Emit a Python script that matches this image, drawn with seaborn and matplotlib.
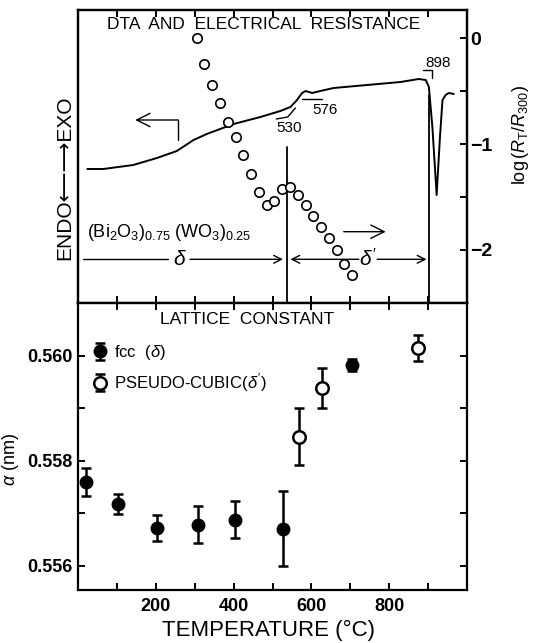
import numpy as np
import pandas as pd
import matplotlib
matplotlib.use("Agg")
import matplotlib.pyplot as plt
import seaborn as sns
from matplotlib.ticker import MultipleLocator, FixedLocator, FixedFormatter

# ---------------- data ----------------
dta_temp = [24, 65, 142, 203, 254, 297, 331, 400, 469, 520, 546, 563, 576, 585, 602,
            623, 657, 743, 829, 876, 894, 902, 911, 922, 930, 937, 945, 953, 966]
dta_signal = [13.4, 13.4, 13.8, 14.5, 15.2, 16.3, 16.9, 17.9, 18.6, 19.2, 19.6, 20.3,
              21.0, 21.2, 21.0, 21.2, 21.5, 21.8, 22.1, 22.4, 22.3, 21.6, 17.6, 10.8,
              16.3, 20.3, 20.8, 21.0, 20.9]

res_temp = [305, 325, 345, 365, 385, 405, 425, 445, 465, 485, 505, 525, 545, 565,
            585, 605, 625, 645, 665, 685, 705]
res_log = [0.0, -0.24, -0.44, -0.61, -0.79, -0.93, -1.10, -1.28, -1.45, -1.58, -1.54,
           -1.42, -1.41, -1.48, -1.58, -1.68, -1.78, -1.89, -2.00, -2.13, -2.24]

fcc_temp = [20, 104, 204, 309, 403, 528, 705]
fcc_a = [0.55760, 0.55718, 0.55672, 0.55678, 0.55688, 0.55671, 0.55982]
fcc_err = [0.00027, 0.00019, 0.00025, 0.00035, 0.00035, 0.00072, 0.00012]

pc_temp = [569, 628, 875]
pc_a = [0.55846, 0.55939, 0.56015]
pc_err = [0.00055, 0.00038, 0.00025]

transition_temps = [530, 576, 898]
x_major = [200, 400, 600, 800]
x_major_labels = ["200", "400", "600", "800"]
a_ticks = [0.556, 0.558, 0.560]
a_tick_labels = ["0.556", "0.558", "0.560"]
log_ticks = [0, -1, -2]
log_tick_labels = ["0", "\u22121", "\u22122"]

# ---------------- style ----------------
sns.set_theme(style="ticks")
plt.rcParams["font.family"] = ["Liberation Sans", "DejaVu Sans"]
plt.rcParams["mathtext.fontset"] = "custom"
plt.rcParams["mathtext.rm"] = "Liberation Sans"
plt.rcParams["mathtext.it"] = "Liberation Sans:italic"
plt.rcParams["mathtext.bf"] = "Liberation Sans:bold"
plt.rcParams["axes.linewidth"] = 1.5
plt.rcParams["axes.edgecolor"] = "black"
plt.rcParams["axes.labelcolor"] = "black"
plt.rcParams["xtick.color"] = "black"
plt.rcParams["ytick.color"] = "black"
plt.rcParams["text.color"] = "black"

K = "black"
fig = plt.figure(figsize=(5.35, 6.43), dpi=100)
W, H = 535, 643
L, R = 78, 467
ax_t = fig.add_axes([L / W, 1 - 303 / H, (R - L) / W, (303 - 10) / H])
ax_b = fig.add_axes([L / W, 1 - 590 / H, (R - L) / W, (590 - 303) / H])
ax_r = ax_t.twinx()

# ---------------- top panel ----------------
dta_df = pd.DataFrame({"T": dta_temp, "S": dta_signal})
sns.lineplot(data=dta_df, x="T", y="S", ax=ax_t, sort=False, estimator=None,
             color=K, lw=1.4)
ax_t.set_xlim(0, 1000)
ax_t.set_ylim(0, 29.3)
ax_t.set_xlabel("")
ax_t.set_ylabel("")
ax_t.set_yticks([])
ax_t.xaxis.set_major_locator(MultipleLocator(100))
ax_t.tick_params(axis="x", which="both", direction="in", top=True, bottom=True,
                 labelbottom=False, length=5, width=1.4, color=K)

res_df = pd.DataFrame({"T": res_temp, "logR": res_log})
sns.scatterplot(data=res_df, x="T", y="logR", ax=ax_r, s=46, facecolor="white",
                edgecolor=K, linewidth=1.2, zorder=3)
ax_r.set_ylim(-2.502, 0.267)
ax_r.set_xlim(0, 1000)
ax_r.yaxis.set_major_locator(FixedLocator(log_ticks))
ax_r.yaxis.set_major_formatter(FixedFormatter(log_tick_labels))
ax_r.yaxis.set_minor_locator(MultipleLocator(0.5))
ax_r.tick_params(axis="y", which="both", direction="in", length=5, width=1.4,
                 labelsize=14, pad=2, color=K, labelcolor=K)
for lab in ax_r.get_yticklabels():
    lab.set_fontweight("bold")
ax_r.set_xlabel("")
ax_r.set_ylabel(r"log$\,(R_{\rm T}/R_{300})$", fontsize=13, rotation=90, color=K)
ax_r.yaxis.set_label_coords(1.11, 0.573)

# transition markers
ax_t.plot([536, 536], [0, 15.6], color=K, lw=1.3)
ax_t.plot([902, 902], [0, 20.8], color=K, lw=1.3)
ax_t.plot([510, 539, 559], [18.4, 18.6, 19.5], color=K, lw=1.0)
ax_t.plot([576, 628], [20.4, 20.4], color=K, lw=1.0)
ax_t.plot([888, 911, 911], [23.3, 23.3, 22.5], color=K, lw=1.0)
ax_t.text(543, 17.5, str(transition_temps[0]), ha="center", va="center", fontsize=11)
ax_t.text(636, 19.3, str(transition_temps[1]), ha="center", va="center", fontsize=11)
ax_t.text(927, 24.0, str(transition_temps[2]), ha="center", va="center", fontsize=11)

arrow = dict(arrowstyle="->", color=K, lw=1.0, mutation_scale=14,
             shrinkA=0, shrinkB=0)
# delta region
ax_t.plot([13, 232], [4.37, 4.37], color=K, lw=1.0)
ax_t.annotate("", xy=(527, 4.37), xytext=(288, 4.37), arrowprops=arrow)
ax_t.text(263, 4.37, r"$\delta$", ha="center", va="center", fontsize=15)
# delta' region
ax_t.annotate("", xy=(546, 4.37), xytext=(722, 4.37), arrowprops=arrow)
ax_t.annotate("", xy=(896, 4.37), xytext=(769, 4.37), arrowprops=arrow)
ax_t.text(746, 4.37, r"$\delta'$", ha="center", va="center", fontsize=15)
# axis pointers
ax_t.plot([258, 258], [16.3, 18.3], color=K, lw=1.0)
ax_t.annotate("", xy=(147, 18.3), xytext=(258, 18.3),
              arrowprops=dict(arrowstyle="->", color=K, lw=1.0, mutation_scale=24,
                              shrinkA=0, shrinkB=0))
ax_t.annotate("", xy=(791, 7.13), xytext=(683, 7.13),
              arrowprops=dict(arrowstyle="->", color=K, lw=1.0, mutation_scale=24,
                              shrinkA=0, shrinkB=0))
ax_t.text(23, 7.1, r"(Bi$_2$O$_3$)$_{0.75}$ (WO$_3$)$_{0.25}$", ha="left",
          va="center", fontsize=13)
ax_t.text(0.478, 0.949, "DTA  AND  ELECTRICAL  RESISTANCE", transform=ax_t.transAxes,
          ha="center", va="center", fontsize=12.5)
ax_t.text(-0.033, 0.428, "ENDO\u27f5\u27f6EXO", transform=ax_t.transAxes,
          rotation=90, ha="center", va="center", fontsize=15)

# ---------------- bottom panel ----------------
eb1 = ax_b.errorbar(fcc_temp, fcc_a, yerr=fcc_err, fmt="o", ms=9, mfc=K, mec=K,
                    ecolor=K, elinewidth=1.8, capsize=3.6, capthick=1.8,
                    label=r"fcc  ($\delta$)", zorder=3)
eb2 = ax_b.errorbar(pc_temp, pc_a, yerr=pc_err, fmt="o", ms=9, mfc="white", mec=K,
                    mew=1.8, ecolor=K, elinewidth=1.8, capsize=3.6, capthick=1.8,
                    label=r"PSEUDO-CUBIC($\delta'$)", zorder=3)
ax_b.set_xlim(0, 1000)
ax_b.set_ylim(0.55554, 0.561)
ax_b.xaxis.set_major_locator(FixedLocator(x_major))
ax_b.xaxis.set_major_formatter(FixedFormatter(x_major_labels))
ax_b.xaxis.set_minor_locator(MultipleLocator(100))
ax_b.yaxis.set_major_locator(FixedLocator(a_ticks))
ax_b.yaxis.set_major_formatter(FixedFormatter(a_tick_labels))
ax_b.yaxis.set_minor_locator(MultipleLocator(0.001))
ax_b.tick_params(which="both", direction="in", top=True, right=True, length=5,
                 width=1.4, color=K, labelcolor=K, labelsize=13)
ax_b.tick_params(axis="x", pad=6)
ax_b.tick_params(axis="y", pad=4)
for lab in ax_b.get_xticklabels() + ax_b.get_yticklabels():
    lab.set_fontweight("bold")
ax_b.set_xlabel("TEMPERATURE (\u00b0C)", fontsize=16, color=K)
ax_b.xaxis.set_label_coords(0.49, -0.105)
ax_b.set_ylabel(r"$\alpha$ (nm)", fontsize=13, color=K)
ax_b.yaxis.set_label_coords(-0.147, 0.456)
ax_b.text(0.435, 0.941, "LATTICE  CONSTANT", transform=ax_b.transAxes,
          ha="center", va="center", fontsize=12.5)
ax_b.legend(handles=[eb1, eb2], loc="upper left", bbox_to_anchor=(0.035, 0.86),
            frameon=False, handlelength=1.0, handletextpad=0.35, labelspacing=0.55,
            borderpad=0, borderaxespad=0, fontsize=12, labelcolor=K)

for a in (ax_t, ax_b, ax_r):
    for s in a.spines.values():
        s.set_color(K)
        s.set_linewidth(1.6)

fig.savefig("out.png", dpi=100)
